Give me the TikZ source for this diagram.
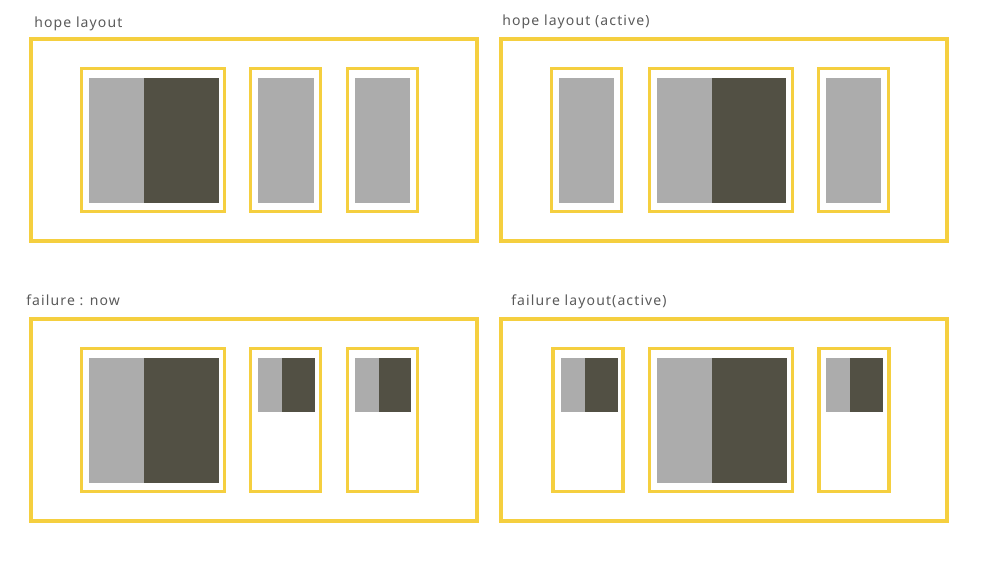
\documentclass[tikz,border=0pt]{standalone}
\usepackage{fontspec}
\setmainfont{Noto Sans}[LetterSpace=8]
\usepackage{tikz}
\usetikzlibrary{positioning}
\usepackage{xcolor}
\definecolor{frameyellow}{HTML}{F5CF3F}
\definecolor{blockgray}{HTML}{ACACAC}
\definecolor{blockdark}{HTML}{525044}
\definecolor{labelgray}{HTML}{5A5A5A}
\tikzset{
  panel/.style={draw=frameyellow, line width=2.4pt},
  slot/.style={draw=frameyellow, line width=2.3pt},
  light/.style={fill=blockgray},
  dark/.style={fill=blockdark},
  caption/.style={anchor=base west, inner sep=0pt, text=labelgray, font=\fontsize{10.5}{12}\selectfont}
}

\begin{document}
\begin{tikzpicture}[x=0.75pt, y=-0.75pt]
  \useasboundingbox (0,0) rectangle (995,564);
  % titles
  \node[caption] (t1) at (34,27) {hope layout};
  \node[caption] (t2) at (502,25) {hope layout (active)};
  \node[caption] (t3) at (26,305) {failure : now};
  \node[caption] (t4) at (511,305) {failure layout(active)};
  % outer panels
  \draw[panel] (31,39) rectangle (477,241);
  \draw[panel] (501,39) rectangle (947,241);
  \draw[panel] (31,319) rectangle (477,521);
  \draw[panel] (501,319) rectangle (947,521);
  % hope layout
  \draw[slot] (81.5,68.5) rectangle (224.5,211.5);
  \fill[light] (89,78) rectangle (144,203);
  \fill[dark] (144,78) rectangle (219,203);
  \draw[slot] (250.5,68.5) rectangle (320.5,211.5);
  \fill[light] (258,78) rectangle (314,203);
  \draw[slot] (347.5,68.5) rectangle (417.5,211.5);
  \fill[light] (355,78) rectangle (410,203);
  % hope layout (active)
  \draw[slot] (551.5,68.5) rectangle (621.5,211.5);
  \fill[light] (559,78) rectangle (614,203);
  \draw[slot] (649.5,68.5) rectangle (792.5,211.5);
  \fill[light] (657,78) rectangle (712,203);
  \fill[dark] (712,78) rectangle (786,203);
  \draw[slot] (818.5,68.5) rectangle (888.5,211.5);
  \fill[light] (826,78) rectangle (881,203);
  % failure : now
  \draw[slot] (81.5,348.5) rectangle (224.5,491.5);
  \fill[light] (89,358) rectangle (144,483);
  \fill[dark] (144,358) rectangle (219,483);
  \draw[slot] (250.5,348.5) rectangle (320.5,491.5);
  \fill[light] (258,358) rectangle (282,412);
  \fill[dark] (282,358) rectangle (315,412);
  \draw[slot] (347.5,348.5) rectangle (417.5,491.5);
  \fill[light] (355,358) rectangle (379,412);
  \fill[dark] (379,358) rectangle (411,412);
  % failure layout(active)
  \draw[slot] (553,348.5) rectangle (623,491.5);
  \fill[light] (561,358) rectangle (585,412);
  \fill[dark] (585,358) rectangle (618,412);
  \draw[slot] (649.5,348.5) rectangle (792.5,491.5);
  \fill[light] (657,358) rectangle (712,483);
  \fill[dark] (712,358) rectangle (787,483);
  \draw[slot] (819,348.5) rectangle (889,491.5);
  \fill[light] (826,358) rectangle (850,412);
  \fill[dark] (850,358) rectangle (883,412);
\end{tikzpicture}
\end{document}
